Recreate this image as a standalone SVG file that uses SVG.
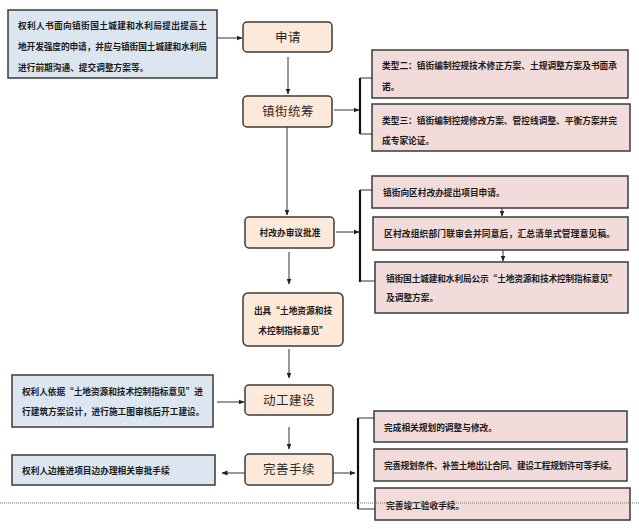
<svg xmlns="http://www.w3.org/2000/svg" width="639" height="529" viewBox="0 0 639 529">
<defs>
<marker id="ah" viewBox="0 0 6 6" refX="5.5" refY="3" markerWidth="6" markerHeight="6" markerUnits="userSpaceOnUse" orient="auto">
<path d="M0,0.5 L6,3 L0,5.5 Z" fill="#222"/>
</marker>
<style>
.blue{fill:#dce6f1;stroke:#3a3a3a;stroke-width:1.5}
.peach{fill:#fde9d9;stroke:#3a3a3a;stroke-width:1.5}
.pink{fill:#f2dcdb;stroke:#3a3a3a;stroke-width:1.5}
.sm{font-family:"Noto Sans CJK SC","Noto Sans",sans-serif;font-size:8.7px;fill:#1a1a1a;font-weight:600}
.lg{font-family:"Noto Sans CJK SC","Noto Sans",sans-serif;font-size:12.5px;fill:#2a2a2a;text-anchor:middle;letter-spacing:0.5px}
.md{font-family:"Noto Sans CJK SC","Noto Sans",sans-serif;font-size:8.7px;fill:#1a1a1a;text-anchor:middle;font-weight:600}
.ln{fill:none;stroke:#333;stroke-width:1}
.br{fill:none;stroke:#111;stroke-width:2.2}
.tk{fill:none;stroke:#333;stroke-width:1}
</style>
</defs>

<g id="n-left1">
<rect class="blue" x="8" y="10" width="209" height="68"/>
<text class="sm" x="18" y="29" textLength="189">权利人书面向镇街国土城建和水利局提出提高土</text>
<text class="sm" x="18" y="50" textLength="189">地开发强度的申请，并应与镇街国土城建和水利局</text>
<text class="sm" x="18" y="71">进行前期沟通、提交调整方案等。</text>
</g>

<g id="n-apply">
<rect class="peach" x="243" y="22" width="89" height="30" rx="4"/>
<text class="lg" x="288" y="42">申请</text>
</g>

<g id="n-town">
<rect class="peach" x="243" y="96" width="89" height="31" rx="4"/>
<text class="lg" x="288" y="116">镇街统筹</text>
</g>

<g id="n-type2">
<rect class="pink" x="372" y="50" width="256" height="48"/>
<text class="sm" x="382" y="69" textLength="235">类型二：镇街编制控规技术修正方案、土规调整方案及书面承</text>
<text class="sm" x="382" y="90">诺。</text>
</g>

<g id="n-type3">
<rect class="pink" x="372" y="104" width="258" height="47"/>
<text class="sm" x="382" y="124" textLength="235">类型三：镇街编制控规修改方案、管控线调整、平衡方案并完</text>
<text class="sm" x="382" y="144">成专家论证。</text>
</g>

<g id="n-village">
<rect class="peach" x="245" y="217" width="89" height="31" rx="4"/>
<text class="md" x="290" y="236">村改办审议批准</text>
</g>

<g id="n-r1">
<rect class="pink" x="372" y="176" width="256" height="32"/>
<text class="sm" x="383" y="196">镇街向区村改办提出项目申请。</text>
</g>

<g id="n-r2">
<rect class="pink" x="373" y="217" width="255" height="33"/>
<text class="sm" x="384" y="237" textLength="231">区村改组织部门联审会并同意后，汇总清单式管理意见稿。</text>
</g>

<g id="n-r3">
<rect class="pink" x="375" y="262" width="253" height="51"/>
<text class="sm" x="386" y="282" textLength="231">镇街国土城建和水利局公示“土地资源和技术控制指标意见”</text>
<text class="sm" x="386" y="301">及调整方案。</text>
</g>

<g id="n-issue">
<rect class="peach" x="243" y="293" width="100" height="53" rx="5"/>
<text class="md" x="293" y="314">出具“土地资源和技</text>
<text class="md" x="293" y="334">术控制指标意见”</text>
</g>

<g id="n-left2">
<rect class="blue" x="12" y="375" width="201" height="52"/>
<text class="sm" x="22" y="395" textLength="181">权利人依据“土地资源和技术控制指标意见”进</text>
<text class="sm" x="22" y="415">行建筑方案设计，进行施工图审核后开工建设。</text>
</g>

<g id="n-build">
<rect class="peach" x="245" y="385" width="88" height="30" rx="4"/>
<text class="lg" x="289" y="405">动工建设</text>
</g>

<g id="n-finish">
<rect class="peach" x="245" y="454" width="88" height="31" rx="4"/>
<text class="lg" x="289" y="474">完善手续</text>
</g>

<g id="n-left3">
<rect class="blue" x="12" y="455" width="203" height="30"/>
<text class="sm" x="22" y="474">权利人边推进项目边办理相关审批手续</text>
</g>

<g id="n-fa">
<rect class="pink" x="374" y="411" width="253" height="31"/>
<text class="sm" x="384" y="431">完成相关规划的调整与修改。</text>
</g>

<g id="n-fb">
<rect class="pink" x="374" y="449" width="253" height="32"/>
<text class="sm" x="384" y="469" textLength="233">完善规划条件、补签土地出让合同、建设工程规划许可等手续。</text>
</g>

<g id="n-fc">
<rect class="pink" x="375" y="488" width="255" height="32"/>
<text class="sm" x="386" y="509">完善竣工验收手续。</text>
</g>

<g id="connectors">
<line class="ln" x1="217" y1="38" x2="242" y2="38" marker-end="url(#ah)"/>
<line class="ln" x1="288" y1="57" x2="288" y2="94" marker-end="url(#ah)"/>
<line class="ln" x1="334" y1="110" x2="359" y2="110" marker-end="url(#ah)"/>
<path class="br" d="M360,78 V134"/>
<path class="tk" d="M360,78 H372 M360,134 H372"/>
<line class="ln" x1="287" y1="127" x2="287" y2="215" marker-end="url(#ah)"/>
<line class="ln" x1="336" y1="232" x2="359" y2="232" marker-end="url(#ah)"/>
<path class="br" d="M360,190 V282"/>
<path class="tk" d="M360,190 H372 M360,281 H375"/>
<line class="ln" x1="502" y1="208" x2="502" y2="216" marker-end="url(#ah)"/>
<line class="ln" x1="503" y1="250" x2="503" y2="261" marker-end="url(#ah)"/>
<line class="ln" x1="289" y1="252" x2="289" y2="284" marker-end="url(#ah)"/>
<line class="ln" x1="289" y1="349" x2="289" y2="378" marker-end="url(#ah)"/>
<line class="ln" x1="217" y1="402" x2="244" y2="402" marker-end="url(#ah)"/>
<line class="ln" x1="289" y1="427" x2="289" y2="449" marker-end="url(#ah)"/>
<line class="ln" x1="245" y1="473" x2="222" y2="473" marker-end="url(#ah)"/>
<line class="ln" x1="333" y1="473" x2="355" y2="473" marker-end="url(#ah)"/>
<path class="br" d="M358,418 V509"/>
<path class="tk" d="M358,418 H374 M358,509 H375"/>
</g>

<line x1="0" y1="503" x2="639" y2="503" stroke="#777" stroke-width="1" stroke-dasharray="1,1"/>
</svg>
